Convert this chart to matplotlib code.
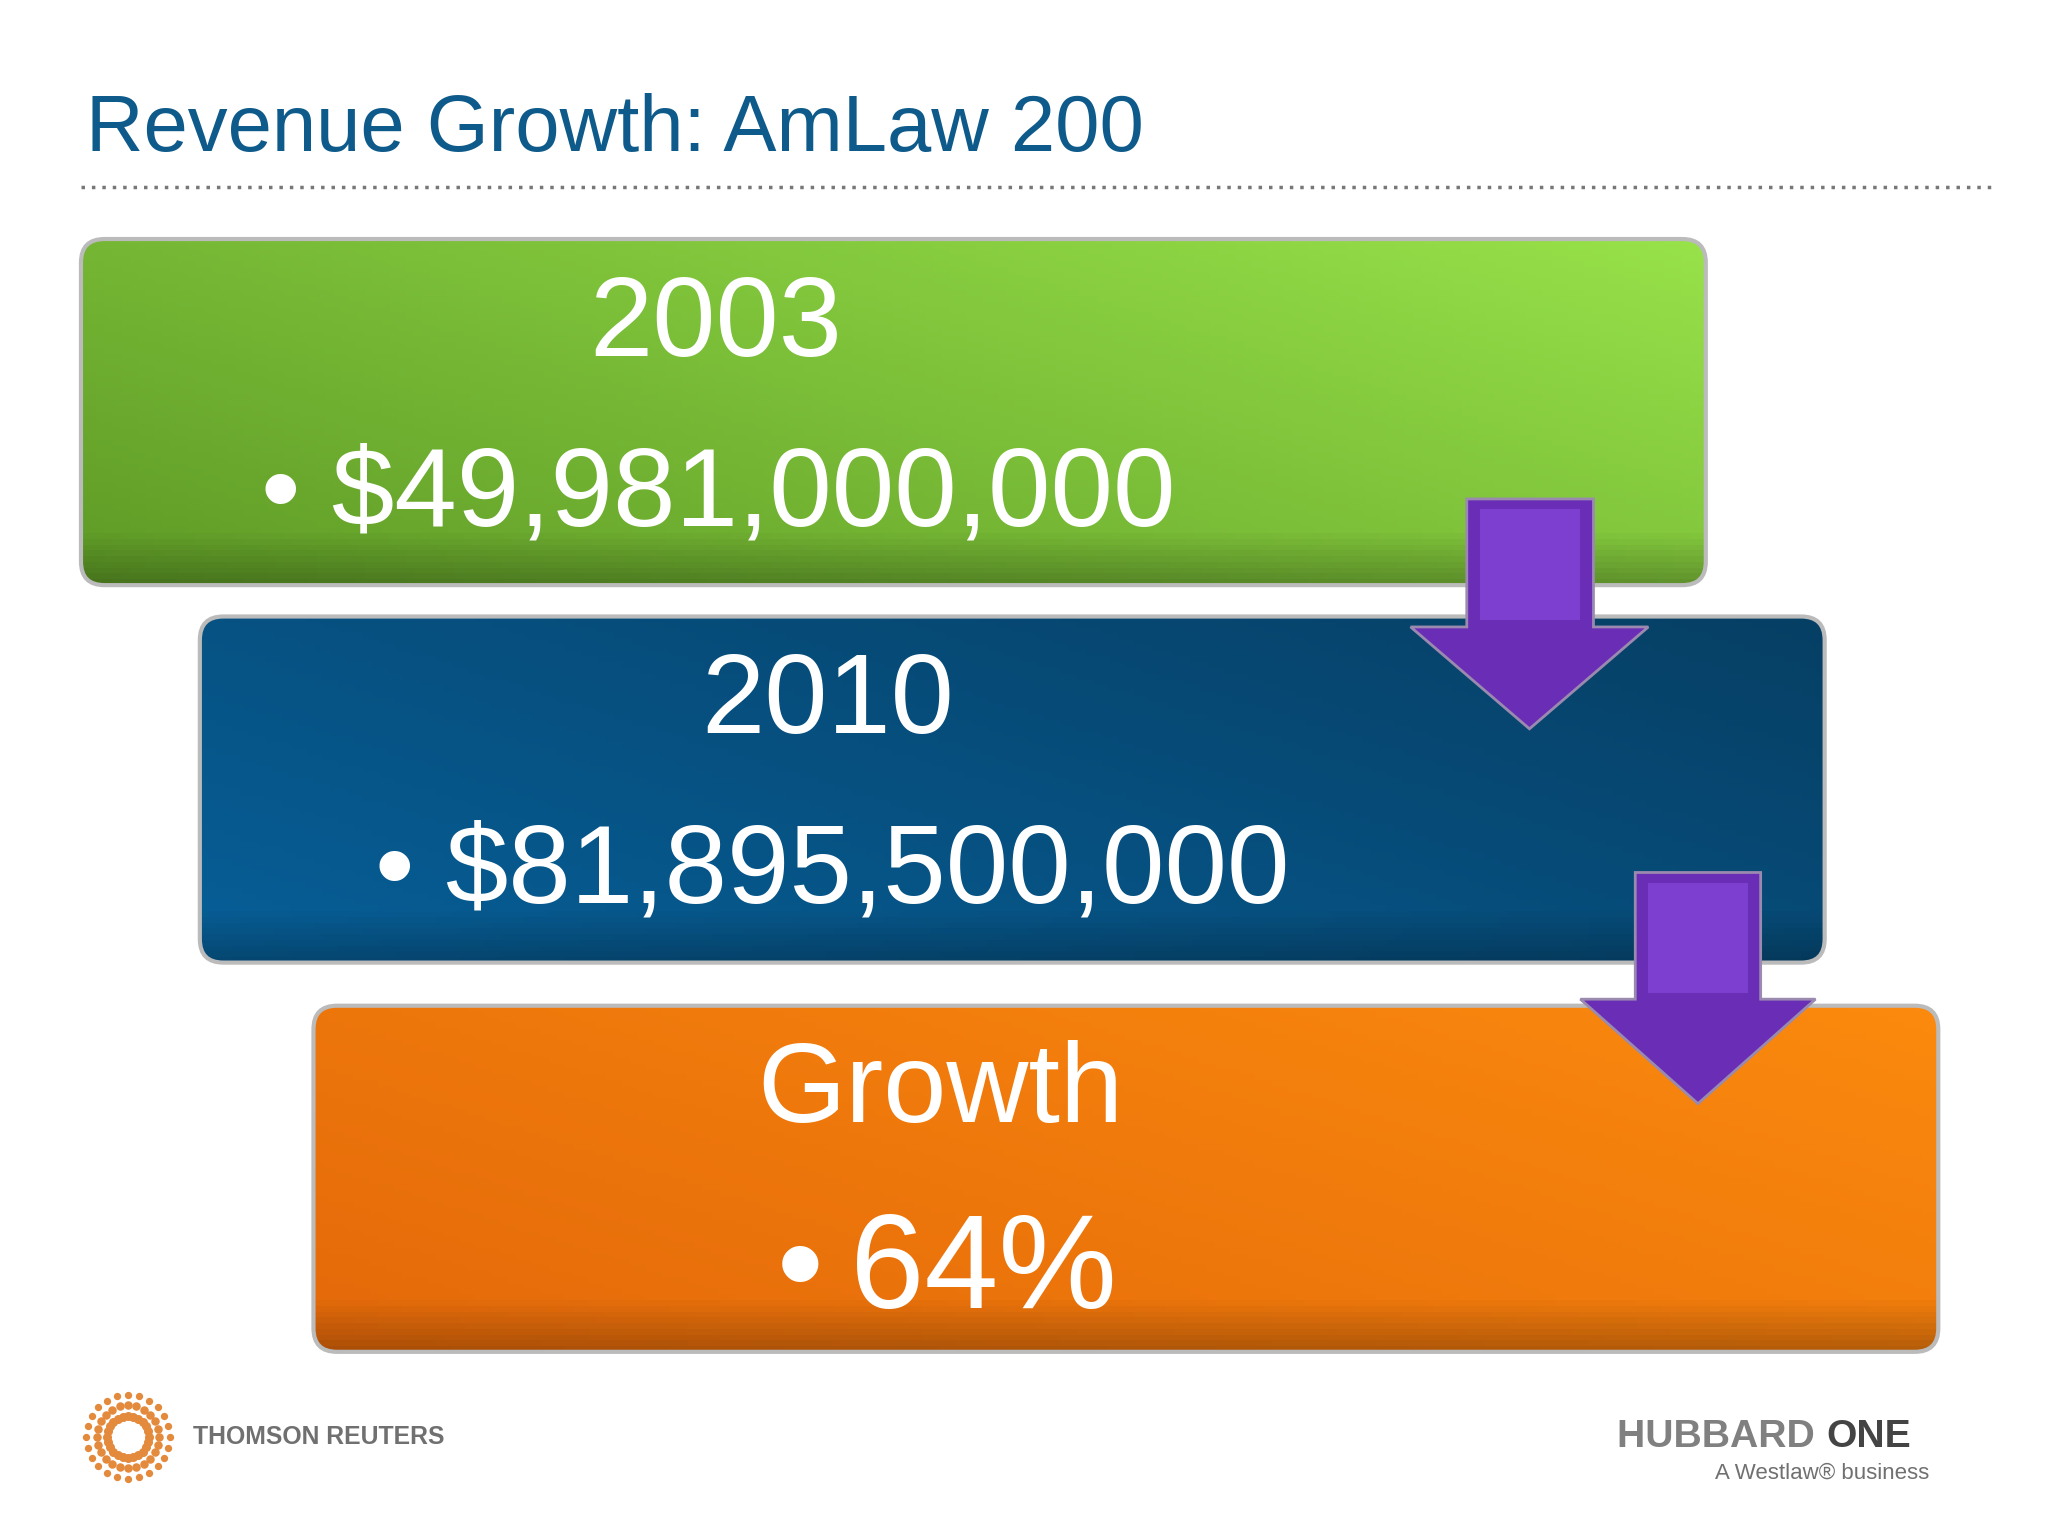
import matplotlib
matplotlib.use("Agg")
import matplotlib.pyplot as plt
import numpy as np
from matplotlib.patches import FancyBboxPatch, Polygon

title = "Revenue Growth: AmLaw 200"
headers = ["2003", "2010", "Growth"]
values = ["$49,981,000,000", "$81,895,500,000", "64%"]

W, H = 1568, 1176
k = 2048 / W * 0.72  # display px -> pt
fig = plt.figure(figsize=(20.48, 15.36), dpi=100)
ax = fig.add_axes([0, 0, 1, 1])
ax.set_xlim(0, W); ax.set_ylim(H, 0); ax.axis("off")

ax.text(66, 100, title, fontsize=61 * k, color="#0e5a8a", va="center", ha="left", family="Liberation Sans")
ax.plot([62, 1528], [143, 143], ls=(0, (1, 2)), color="#777777", lw=2.5)

boxes = [(62, 183, "#5e9a26", "#98e24a"), (153, 472, "#075f98", "#063f64"), (240, 770, "#e4690a", "#fb8a0e")]
bw, bh = 1244, 265
hdr_x = [548, 634, 720]
val_x = [200, 287, 595]
for i, (x, y, c0, c1) in enumerate(boxes):
    p = FancyBboxPatch((x, y), bw, bh, boxstyle="round,pad=0,rounding_size=18",
                       fc="none", ec="#bbbbbb", lw=3, zorder=3)
    ax.add_patch(p)
    a = np.array(matplotlib.colors.to_rgb(c0)); b = np.array(matplotlib.colors.to_rgb(c1))
    xx, yy = np.meshgrid(np.linspace(0, 1, 200), np.linspace(0, 1, 60))
    t = np.clip(0.6 * xx + 0.4 * (1 - yy), 0, 1)[..., None]
    img = a * (1 - t) + b * t
    shade = 1 - 0.25 * np.clip((yy - 0.85) / 0.15, 0, 1)[..., None]
    img = img * shade
    im = ax.imshow(img, extent=(x, x + bw, y + bh, y), zorder=2, aspect="auto")
    im.set_clip_path(p)
    ax.text(hdr_x[i], y + 67, headers[i], fontsize=87 * k, color="white", ha="center", va="center",
            family="Liberation Sans", zorder=5)
    fs = 86 if i < 2 else 102
    ax.text(val_x[i], y + 197 + (8 if i == 2 else 0), "\u2022" + (" " if i < 2 else "\u2009") + values[i],
            fontsize=fs * k, color="white", ha="left", va="center", family="Liberation Sans", zorder=5)

for (sx0, sx1, top, hy, tip, hx0, hx1) in [(1123, 1220, 382, 480, 558, 1080, 1262),
                                          (1252, 1348, 668, 765, 845, 1210, 1390)]:
    cx = (hx0 + hx1) / 2
    pts = [(sx0, top), (sx1, top), (sx1, hy), (hx1, hy), (cx, tip), (hx0, hy), (sx0, hy)]
    ax.add_patch(Polygon(pts, closed=True, fc="#6a2db5", ec="#9a8ab0", lw=2, zorder=6))
    ax.add_patch(Polygon([(sx0 + 10, top + 8), (sx1 - 10, top + 8), (sx1 - 10, hy - 5), (sx0 + 10, hy - 5)],
                         fc="#7d3fd0", ec="none", zorder=7))

# logos
th = np.linspace(0, 2 * np.pi, 24, endpoint=False)
for r, s in [(32, 18), (24, 26), (16, 30)]:
    ax.scatter(98 + r * np.cos(th), 1100 + r * np.sin(th), s=s, color="#e38a3c", zorder=5)
ax.text(148, 1100, "THOMSON REUTERS", fontsize=19 * k, color="#707070", weight="bold", va="center",
        family="Liberation Sans")
ax.text(1398, 1100, "HUBBARD ", fontsize=30 * k, color="#808080", weight="bold", va="center", ha="right",
        family="Liberation Sans")
ax.text(1398, 1100, "ONE", fontsize=30 * k, color="#444444", weight="bold", va="center", ha="left",
        family="Liberation Sans")
ax.text(1477, 1128, "A Westlaw\u00ae business", fontsize=17 * k, color="#707070", va="center", ha="right",
        family="Liberation Sans")

fig.savefig("out.png", dpi=100, facecolor="white")
